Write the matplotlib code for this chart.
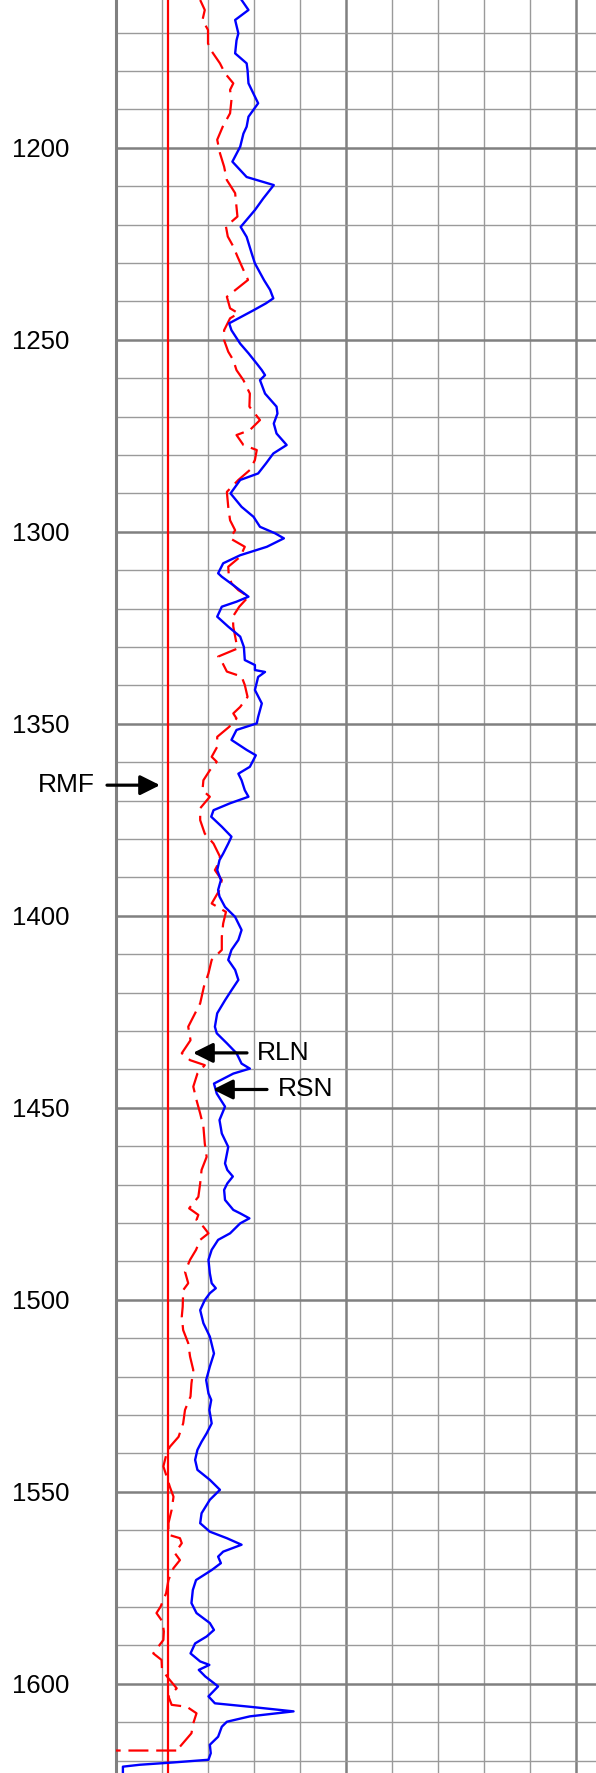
import matplotlib
matplotlib.use("Agg")
import matplotlib.pyplot as plt
from matplotlib.ticker import MultipleLocator

plt.rcParams['font.family'] = ['Liberation Sans', 'DejaVu Sans']

# ---- data ----
depth_ticks = [1200, 1250, 1300, 1350, 1400, 1450, 1500, 1550, 1600]
rmf_value = 1.12

rsn_depth = [1161.5, 1164.1, 1166.7, 1170.2, 1172.0, 1175.4, 1178.0, 1179.8, 1183.2, 1188.4,
             1191.9, 1194.5, 1196.3, 1199.7, 1203.6, 1207.6, 1209.7, 1213.2, 1216.2, 1220.6,
             1223.2, 1227.5, 1230.1, 1234.5, 1237.0, 1239.2, 1240.5, 1242.3, 1245.7, 1247.5,
             1251.0, 1253.5, 1256.2, 1257.9, 1259.2, 1260.5, 1264.0, 1267.4, 1269.2, 1271.8,
             1274.4, 1277.4, 1279.6, 1282.2, 1284.8, 1286.5, 1290.0, 1293.5, 1296.1, 1298.7,
             1300.4, 1301.7, 1303.9, 1306.1, 1308.2, 1310.8, 1311.7, 1313.9, 1316.9, 1318.2,
             1319.5, 1322.1, 1324.7, 1327.3, 1330.0, 1333.4, 1334.7, 1336.0, 1336.5, 1337.8,
             1341.2, 1344.7, 1348.2, 1349.9, 1351.6, 1354.2, 1356.8, 1358.2, 1361.2, 1363.0,
             1364.7, 1367.3, 1369.0, 1370.7, 1372.5, 1374.2, 1376.8, 1379.4, 1381.2, 1383.8,
             1385.5, 1388.1, 1390.7, 1393.3, 1395.0, 1397.7, 1400.3, 1403.7, 1406.3, 1408.9,
             1411.5, 1414.1, 1416.7, 1419.4, 1422.0, 1425.4, 1428.9, 1430.6, 1433.2, 1435.8,
             1438.5, 1439.8, 1441.1, 1443.7, 1446.3, 1449.7, 1453.2, 1456.7, 1460.2, 1464.5,
             1466.2, 1467.9, 1469.7, 1471.4, 1474.0, 1476.6, 1477.5, 1478.8, 1480.1, 1482.7,
             1484.4, 1487.0, 1489.6, 1493.1, 1495.7, 1497.0, 1498.3, 1500.1, 1502.7, 1506.1,
             1509.6, 1514.0, 1517.4, 1520.9, 1524.4, 1526.1, 1528.7, 1532.2, 1534.8, 1537.0,
             1539.1, 1541.7, 1544.3, 1546.9, 1549.5, 1552.1, 1555.6, 1558.2, 1560.4, 1562.1,
             1563.8, 1565.6, 1566.9, 1568.6, 1570.4, 1573.0, 1575.6, 1579.0, 1581.6, 1584.2,
             1586.0, 1587.7, 1589.5, 1592.1, 1594.2, 1595.1, 1596.4, 1598.1, 1600.7, 1603.3,
             1605.1, 1606.0, 1607.2, 1608.5, 1609.9, 1611.2, 1613.8, 1615.9, 1618.1, 1619.8,
             1620.5, 1621.1, 1621.6, 1625.0]
rsn_value = [2.73, 2.88, 2.59, 2.66, 2.62, 2.59, 2.84, 2.86, 2.88, 3.09,
             2.88, 2.84, 2.77, 2.70, 2.53, 2.84, 3.43, 3.20, 3.02, 2.71,
             2.84, 2.95, 3.02, 3.22, 3.35, 3.42, 3.26, 2.99, 2.46, 2.51,
             2.70, 2.88, 3.06, 3.17, 3.24, 3.13, 3.24, 3.49, 3.51, 3.43,
             3.49, 3.71, 3.42, 3.26, 3.09, 2.70, 2.49, 2.73, 2.99, 3.13,
             3.46, 3.65, 3.28, 2.70, 2.33, 2.22, 2.30, 2.55, 2.88, 2.62,
             2.30, 2.20, 2.44, 2.70, 2.78, 2.80, 3.02, 3.02, 3.24, 3.09,
             3.02, 3.17, 3.09, 3.06, 2.62, 2.51, 2.84, 3.04, 2.91, 2.66,
             2.73, 2.80, 2.88, 2.48, 2.12, 2.07, 2.30, 2.51, 2.44, 2.33,
             2.25, 2.20, 2.28, 2.22, 2.25, 2.37, 2.59, 2.73, 2.66, 2.51,
             2.44, 2.59, 2.66, 2.51, 2.37, 2.20, 2.15, 2.19, 2.41, 2.62,
             2.73, 2.91, 2.55, 2.13, 2.19, 2.37, 2.25, 2.30, 2.44, 2.37,
             2.42, 2.54, 2.42, 2.35, 2.37, 2.55, 2.70, 2.90, 2.70, 2.48,
             2.22, 2.08, 2.01, 2.04, 2.08, 2.17, 2.04, 1.93, 1.83, 1.90,
             2.04, 2.13, 2.04, 1.96, 2.01, 2.07, 2.03, 2.08, 1.97, 1.86,
             1.77, 1.72, 1.77, 2.04, 2.26, 2.04, 1.86, 1.83, 2.04, 2.41,
             2.73, 2.33, 2.22, 2.28, 2.08, 1.74, 1.67, 1.64, 1.75, 2.04,
             2.13, 1.97, 1.72, 1.62, 1.83, 2.03, 1.80, 1.94, 2.22, 2.01,
             2.15, 2.91, 3.86, 2.91, 2.41, 2.30, 2.22, 2.04, 2.06, 2.01,
             1.25, 0.52, 0.15, 0.15]

rln_depth = [1161.5, 1164.1, 1166.7, 1169.3, 1172.8, 1174.5, 1178.0, 1180.6, 1183.2, 1184.9,
             1187.5, 1191.0, 1194.5, 1197.9, 1201.4, 1204.9, 1208.4, 1211.8, 1215.3, 1217.9,
             1220.5, 1223.1, 1225.7, 1228.3, 1231.8, 1234.4, 1237.0, 1238.8, 1241.8, 1243.1,
             1244.4, 1247.5, 1250.1, 1253.1, 1255.3, 1257.9, 1260.5, 1264.0, 1267.4, 1270.9,
             1273.5, 1274.8, 1277.4, 1278.7, 1281.3, 1283.9, 1286.5, 1289.6, 1293.5, 1297.0,
             1299.6, 1301.7, 1303.9, 1306.5, 1309.1, 1311.0, 1313.4, 1315.2, 1316.9, 1319.5,
             1322.1, 1324.7, 1327.3, 1330.4, 1332.5, 1333.8, 1336.4, 1337.7, 1339.9, 1343.0,
             1345.6, 1347.3, 1348.6, 1350.8, 1353.4, 1356.0, 1358.6, 1359.9, 1362.1, 1364.7,
             1367.3, 1369.0, 1372.0, 1375.1, 1378.6, 1381.2, 1384.6, 1387.2, 1388.1, 1390.7,
             1393.3, 1396.8, 1399.0, 1402.0, 1405.5, 1408.9, 1411.5, 1415.0, 1418.5, 1422.8,
             1426.3, 1428.9, 1432.4, 1435.8, 1437.6, 1438.9, 1441.1, 1444.5, 1448.0, 1451.5,
             1454.9, 1459.3, 1462.8, 1466.2, 1469.7, 1473.2, 1476.2, 1477.9, 1479.2, 1481.0,
             1482.7, 1484.4, 1487.0, 1489.6, 1492.7, 1495.7, 1497.5, 1501.8, 1504.4, 1507.9,
             1511.3, 1514.8, 1518.3, 1521.8, 1525.2, 1528.7, 1532.2, 1535.7, 1538.3, 1540.0,
             1543.4, 1546.0, 1548.7, 1551.3, 1554.7, 1558.2, 1561.2, 1562.1, 1563.4, 1566.0,
             1567.8, 1569.9, 1573.0, 1576.4, 1579.9, 1581.6, 1583.8, 1586.4, 1588.6, 1592.1,
             1593.8, 1596.4, 1598.6, 1601.2, 1603.3, 1605.5, 1606.0, 1607.7, 1610.3, 1612.9,
             1614.6, 1616.4, 1617.4, 1617.4]
rln_value = [1.83, 1.93, 1.88, 2.00, 2.00, 2.06, 2.26, 2.37, 2.55, 2.48,
             2.51, 2.48, 2.32, 2.20, 2.26, 2.35, 2.41, 2.59, 2.62, 2.64,
             2.39, 2.43, 2.55, 2.64, 2.77, 2.87, 2.60, 2.41, 2.48, 2.66,
             2.48, 2.35, 2.35, 2.44, 2.55, 2.62, 2.77, 2.91, 2.90, 3.13,
             2.91, 2.62, 2.77, 3.06, 3.02, 2.91, 2.66, 2.41, 2.44, 2.48,
             2.59, 2.48, 2.80, 2.70, 2.44, 2.45, 2.51, 2.66, 2.88, 2.68,
             2.54, 2.55, 2.59, 2.64, 2.22, 2.30, 2.41, 2.73, 2.80, 2.86,
             2.70, 2.55, 2.62, 2.46, 2.20, 2.20, 2.08, 2.19, 2.04, 1.90,
             1.88, 2.04, 1.83, 1.83, 1.93, 2.12, 2.26, 2.19, 2.15, 2.30,
             2.25, 2.08, 2.39, 2.33, 2.30, 2.30, 2.08, 2.01, 1.91, 1.83,
             1.68, 1.57, 1.62, 1.43, 1.61, 1.93, 1.77, 1.68, 1.75, 1.83,
             1.90, 1.93, 1.97, 1.86, 1.83, 1.79, 1.59, 1.79, 1.75, 1.90,
             2.01, 1.83, 1.74, 1.61, 1.50, 1.57, 1.46, 1.45, 1.43, 1.46,
             1.57, 1.61, 1.68, 1.64, 1.62, 1.50, 1.46, 1.36, 1.17, 1.10,
             1.03, 1.10, 1.17, 1.25, 1.21, 1.14, 1.14, 1.39, 1.43, 1.28,
             1.39, 1.25, 1.14, 1.09, 0.97, 0.88, 1.01, 1.04, 1.03, 0.81,
             0.99, 1.00, 1.14, 1.32, 1.14, 1.21, 1.54, 1.75, 1.68, 1.64,
             1.52, 1.39, 1.39, 0.00]

# ---- figure ----
W, H = 596, 1773
fig = plt.figure(figsize=(W / 100, H / 100), dpi=100)
ax_left = 116
px_per_unit = 46.0
ax = fig.add_axes([ax_left / W, 0, (W - ax_left) / W, 1])
ax.set_xlim(0, (W - ax_left) / px_per_unit)
ax.set_ylim(1623.25, 1161.5)

ax.xaxis.set_major_locator(MultipleLocator(5))
ax.xaxis.set_minor_locator(MultipleLocator(1))
ax.yaxis.set_major_locator(MultipleLocator(50))
ax.yaxis.set_minor_locator(MultipleLocator(10))
ax.set_yticks(depth_ticks)
ax.set_yticklabels([str(d) for d in depth_ticks])
ax.tick_params(axis='both', which='both', length=0)
ax.tick_params(axis='x', labelbottom=False)
ax.tick_params(axis='y', pad=54, labelsize=18.5)
for lab in ax.get_yticklabels():
    lab.set_horizontalalignment('center')

ax.grid(which='minor', color='#9a9a9a', lw=1.0)
ax.grid(which='major', color='#808080', lw=1.8)
ax.set_axisbelow(True)
for s in ['top', 'right', 'bottom']:
    ax.spines[s].set_visible(False)
ax.spines['left'].set_color('#808080')
ax.spines['left'].set_linewidth(2.2)

ax.axvline(rmf_value, color='#ff0000', lw=1.6, zorder=3)
ax.plot(rln_value, rln_depth, color='#ff0000', lw=1.6, ls=(0, (9, 3.5)), zorder=4)
ax.plot(rsn_value, rsn_depth, color='#0000ff', lw=1.7, zorder=5)

arrow_kw = dict(arrowstyle='-|>,head_length=0.6,head_width=0.3', lw=2.3, color='black',
                mutation_scale=20, shrinkA=0, shrinkB=0)


def px2x(p):
    return (p - ax_left) / px_per_unit


def py2d(p):
    return 1200 + (p - 147.7) / 3.8395


ax.annotate('', xy=(px2x(160), py2d(785)), xytext=(px2x(107), py2d(785)),
            arrowprops=arrow_kw, annotation_clip=False, zorder=6)
ax.text(px2x(66.5), py2d(785), 'RMF', fontsize=19, ha='center', va='center', clip_on=False)

ax.annotate('', xy=(px2x(193), py2d(1052.7)), xytext=(px2x(247), py2d(1052.7)),
            arrowprops=arrow_kw, zorder=6)
ax.text(px2x(283.5), py2d(1052.7), 'RLN', fontsize=19, ha='center', va='center')

ax.annotate('', xy=(px2x(213), py2d(1089.3)), xytext=(px2x(267), py2d(1089.3)),
            arrowprops=arrow_kw, zorder=6)
ax.text(px2x(305.5), py2d(1089.3), 'RSN', fontsize=19, ha='center', va='center')

fig.savefig('out.png', dpi=100)
